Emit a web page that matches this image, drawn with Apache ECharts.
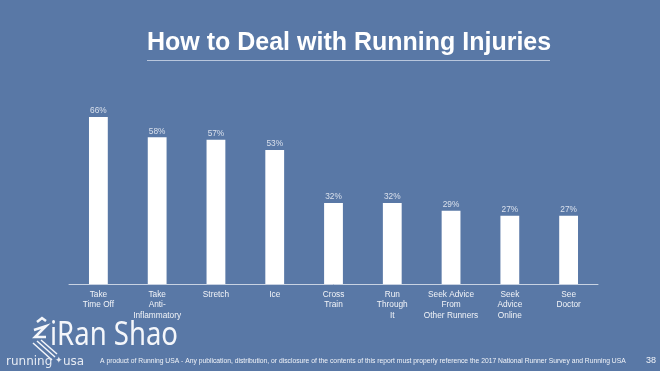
<!DOCTYPE html>
<html>
<head>
<meta charset="utf-8">
<script src="https://cdn.jsdelivr.net/npm/echarts@6/dist/echarts.min.js"></script>
<style>
html,body{margin:0;padding:0;background:#5978a6;}
#c{width:660px;height:371px;}
</style>
</head>
<body>
<div id="c"></div>
<script>
const categories = ["Take\nTime Off", "Take\nAnti-\nInflammatory", "Stretch", "Ice", "Cross\nTrain", "Run\nThrough\nIt", "Seek Advice\nFrom\nOther Runners", "Seek\nAdvice\nOnline", "See\nDoctor"];
const values = [66, 58, 57, 53, 32, 32, 29, 27, 27];
const titleText = "How to Deal with Running Injuries";
const footerText = "A product of Running USA - Any publication, distribution, or disclosure of the contents of this report must properly reference the 2017 National Runner Survey and Running USA";
const pageNumber = "38";

const chart = echarts.init(document.getElementById('c'), null, {renderer: 'canvas'});
const font = '"Liberation Sans", Arial, Helvetica, sans-serif';
chart.setOption({
  backgroundColor: '#5978a6',
  animation: false,
  textStyle: {fontFamily: font},
  grid: {left: 69, right: 62, top: 107, bottom: 87},
  xAxis: {
    type: 'category',
    data: categories,
    axisLine: {show: true, lineStyle: {color: '#c8d2e2', width: 1}},
    axisTick: {show: false},
    axisLabel: {color: '#f2f4f8', fontSize: 8.3, lineHeight: 10.5, margin: 5, interval: 0, fontFamily: font}
  },
  yAxis: {
    type: 'value', min: 0, max: 70,
    show: false, splitLine: {show: false}
  },
  series: [{
    type: 'bar',
    data: values,
    barWidth: '32%',
    itemStyle: {color: '#ffffff'},
    label: {show: true, position: 'top', distance: 2, formatter: '{c}%', color: '#d9e0ec', fontSize: 8.3, fontFamily: font}
  }],
  graphic: [
    {type: 'text', x: 147, y: 43, style: {text: titleText, fill: '#ffffff', font: 'bold 25px ' + font, verticalAlign: 'middle', align: 'left'}},
    {type: 'line', shape: {x1: 147, y1: 60.5, x2: 550, y2: 60.5}, style: {stroke: '#b8c6dc', lineWidth: 1}},
    {type: 'text', x: 50, y: 336, scaleX: 0.86, style: {text: 'iRan Shao', fill: '#f4f6fa', font: '32px "Noto Sans", "DejaVu Sans", sans-serif', verticalAlign: 'middle', align: 'left'}},
    {type: 'polyline', shape: {points: [[37, 322], [42, 318], [46, 321]]}, style: {stroke: '#f4f6fa', lineWidth: 2.5, fill: null}},
    {type: 'polyline', shape: {points: [[34, 330], [46, 326], [35, 337], [46, 337]]}, style: {stroke: '#f4f6fa', lineWidth: 2.5, fill: null}},
    {type: 'line', shape: {x1: 33, y1: 343, x2: 52, y2: 360}, style: {stroke: '#f4f6fa', lineWidth: 1.5}},
    {type: 'line', shape: {x1: 37, y1: 341, x2: 55, y2: 357}, style: {stroke: '#f4f6fa', lineWidth: 1.5}},
    {type: 'line', shape: {x1: 41, y1: 340, x2: 57, y2: 354}, style: {stroke: '#f4f6fa', lineWidth: 1.5}},
    {type: 'text', x: 6, y: 362, style: {text: 'running', fill: '#e6ebf3', font: '12px "DejaVu Sans", sans-serif', verticalAlign: 'middle'}},
    {type: 'text', x: 55, y: 361, style: {text: '✦', fill: '#e6ebf3', font: '9px "DejaVu Sans", sans-serif', verticalAlign: 'middle'}},
    {type: 'text', x: 63, y: 362, style: {text: 'usa', fill: '#e6ebf3', font: '12px "DejaVu Sans", sans-serif', verticalAlign: 'middle'}},
    {type: 'text', x: 100, y: 361, style: {text: footerText, fill: '#f0f3f8', font: '6.75px ' + font, verticalAlign: 'middle'}},
    {type: 'text', x: 646, y: 361, style: {text: pageNumber, fill: '#f0f3f8', font: '9px ' + font, verticalAlign: 'middle'}}
  ]
});
</script>
</body>
</html>
